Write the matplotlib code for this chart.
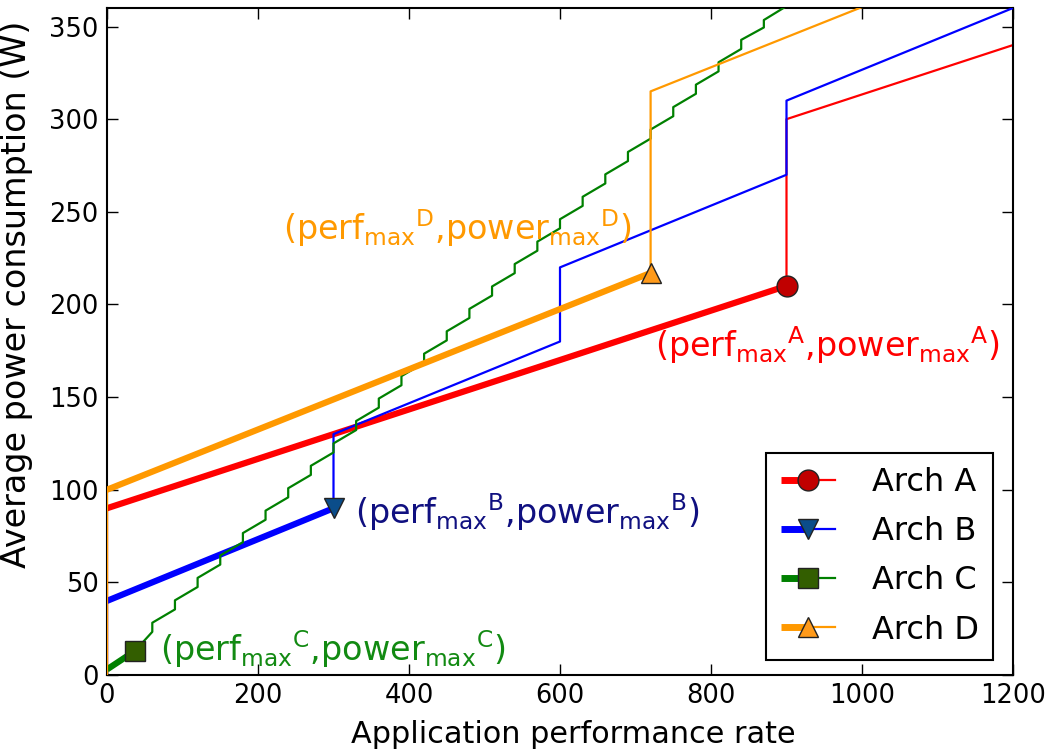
import matplotlib
matplotlib.use('Agg')
import matplotlib.pyplot as plt
from matplotlib.lines import Line2D
from matplotlib.legend_handler import HandlerBase

plt.rcParams['font.family'] = ['DejaVu Sans']
plt.rcParams['mathtext.fontset'] = 'dejavusans'

# ---- data ----
names = ['Arch A', 'Arch B', 'Arch C', 'Arch D']
line_colors = ['#ff0000', '#0000ff', '#008000', '#ff9900']
marker_colors = ['#c00000', '#0b4d8a', '#335e00', '#ff9a1a']
marker_shapes = ['o', 'v', 's', '^']
text_colors = ['#ff0000', '#101080', '#128a12', '#ff9900']

# full power curves (thin)
a_perf = [0, 0, 900, 900, 1200]
a_power = [0, 90, 210, 300, 340]
b_perf = [0, 0, 300, 300, 600, 600, 900, 900, 1200]
b_power = [0, 40, 90, 130, 180, 220, 270, 310, 360]
d_perf = [0, 0, 720, 720, 1200]
d_power = [0, 100, 217, 315, 393]

# Arch C: staircase, jump positions with power just before / after
c_start_perf = [0, 0, 37]
c_start_power = [0, 3, 13]
c_step_perf = [60, 90, 120, 150, 180, 210, 240, 270, 300, 330, 360, 390, 420,
               450, 480, 510, 540, 570, 600, 630, 660, 690, 720, 750, 780, 810,
               840, 870, 900]
c_step_low = [23.3, 35.4, 47.5, 59.6, 71.7, 83.8, 95.9, 108.0, 120.1, 132.2,
              144.3, 156.4, 168.5, 180.6, 192.7, 204.8, 216.9, 229.0, 241.1,
              253.2, 265.3, 277.4, 289.5, 301.6, 313.7, 325.8, 337.9, 349.5, 361.0]
c_step_high = [28.2, 40.3, 52.4, 64.5, 76.6, 88.7, 100.8, 112.9, 125.0, 137.1,
               149.2, 161.3, 173.4, 185.5, 197.6, 209.7, 221.8, 233.9, 246.0,
               258.1, 270.2, 282.3, 294.4, 306.5, 318.6, 330.7, 342.8, 353.5, 366.0]

# operating range up to perf_max (thick)
a_thick_perf, a_thick_power = [0, 900], [90, 210]
b_thick_perf, b_thick_power = [0, 300], [40, 90]
c_thick_perf, c_thick_power = [0, 37], [3, 13]
d_thick_perf, d_thick_power = [0, 720], [100, 217]

# perf_max points
max_perf = [900, 300, 37, 720]
max_power = [210, 90, 13, 217]

# annotation anchors
label_perf = [726, 328, 70, 233]
label_power = [178, 88, 14, 241]
letters = ['A', 'B', 'C', 'D']

# build C thin curve
c_perf = list(c_start_perf)
c_power = list(c_start_power)
for x, lo, hi in zip(c_step_perf, c_step_low, c_step_high):
    c_perf += [x, x]
    c_power += [lo, hi]

thin = [(a_perf, a_power), (b_perf, b_power), (c_perf, c_power), (d_perf, d_power)]
thick = [(a_thick_perf, a_thick_power), (b_thick_perf, b_thick_power),
         (c_thick_perf, c_thick_power), (d_thick_perf, d_thick_power)]


class SplitLineHandler(HandlerBase):
    """Legend entry: thick line on the left, thin on the right, marker in the middle."""
    def __init__(self, color, mcolor, marker):
        super().__init__()
        self.color, self.mcolor, self.marker = color, mcolor, marker

    def create_artists(self, legend, orig_handle, xdescent, ydescent,
                       width, height, fontsize, trans):
        y = height / 2 - ydescent
        x0, x1, xm = -xdescent, width - xdescent, width / 2 - xdescent
        l1 = Line2D([x0, xm], [y, y], color=self.color, lw=5, solid_capstyle='butt')
        l2 = Line2D([xm, x1], [y, y], color=self.color, lw=1.6)
        m = Line2D([xm], [y], marker=self.marker, ms=15, mfc=self.mcolor,
                   mec='#222222', mew=1, ls='none')
        for art in (l1, l2, m):
            art.set_transform(trans)
        return [l1, l2, m]


fig = plt.figure(figsize=(10.52, 7.53), dpi=100)
ax = fig.add_axes([107 / 1052, 1 - 675 / 753, (1013 - 107) / 1052, (675 - 8) / 753])

handles = []
handler_map = {}
for i in range(4):
    ax.plot(thick[i][0], thick[i][1], color=line_colors[i], lw=4.5, solid_capstyle='butt', zorder=2 + i)
    ax.plot(thin[i][0], thin[i][1], color=line_colors[i], lw=1.6, zorder=2 + i)
    ax.plot([max_perf[i]], [max_power[i]], marker=marker_shapes[i], ms=15,
            mfc=marker_colors[i], mec='#222222', mew=1, ls='none', zorder=10)
    lab = r'(perf$_{\mathrm{max}}{}^{\mathrm{%s}}$,power$_{\mathrm{max}}{}^{\mathrm{%s}}$)' % (letters[i], letters[i])
    ax.text(label_perf[i], label_power[i], lab, color=text_colors[i], fontsize=24,
            ha='left', va='center', zorder=11)
    h = Line2D([], [], color=line_colors[i], label=names[i])
    handles.append(h)
    handler_map[h] = SplitLineHandler(line_colors[i], marker_colors[i], marker_shapes[i])

leg = ax.legend(handles=handles, handler_map=handler_map, loc='lower right',
                bbox_to_anchor=(0.978, 0.0225), borderaxespad=0,
                fontsize=23, handlelength=1.7, handletextpad=1.15, labelspacing=0.57,
                borderpad=0.45, fancybox=False, framealpha=1)
leg.get_frame().set_edgecolor('black')
leg.get_frame().set_linewidth(1.5)

ax.set_xlim(0, 1200)
ax.set_ylim(0, 360)
ax.set_xticks(range(0, 1201, 200))
ax.set_yticks(range(0, 351, 50))
ax.tick_params(direction='in', top=True, right=True, length=8, width=1, labelsize=18.5, pad=6)
for s in ax.spines.values():
    s.set_linewidth(1.5)
ax.set_xlabel('Application performance rate', fontsize=21.8)
ax.set_ylabel('Average power consumption (W)', fontsize=24)
ax.xaxis.set_label_coords(0.515, -0.067)
ax.yaxis.set_label_coords(-0.082, 0.57)

fig.savefig('out.png', dpi=100)
